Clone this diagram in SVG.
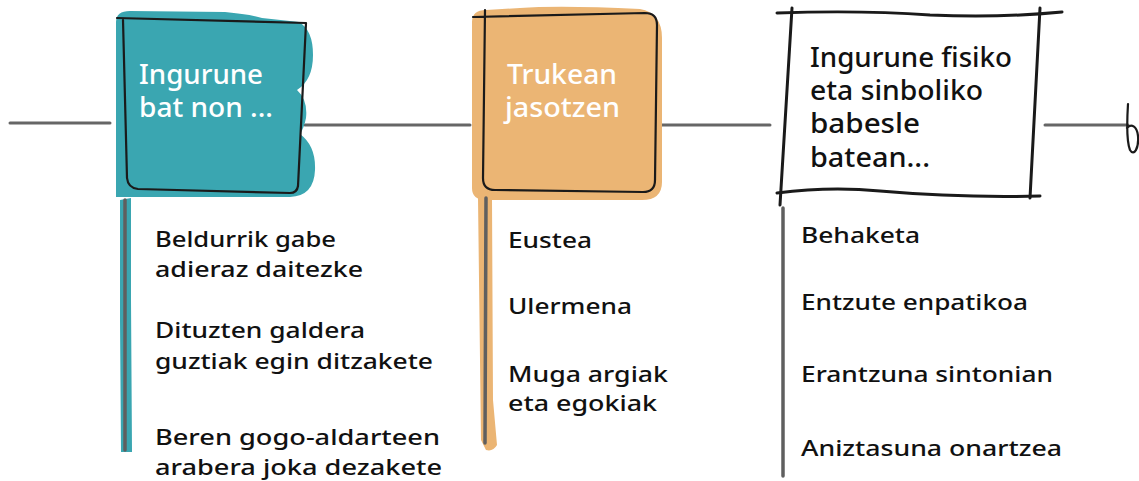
<svg xmlns="http://www.w3.org/2000/svg" width="1139" height="481" viewBox="0 0 1139 481">
<style>
  .conn{stroke:#666;stroke-width:3;fill:none;stroke-linecap:round}
  .ink{stroke:#1a1a1a;stroke-width:2.2;fill:none;stroke-linecap:round;stroke-linejoin:round}
  .ink3{stroke:#1a1a1a;stroke-width:3;fill:none;stroke-linecap:round;stroke-linejoin:round}
  .stem{stroke:#5f5f5f;stroke-width:3.5;fill:none;stroke-linecap:round}
  .title{font-family:"Noto Sans","Liberation Sans",sans-serif;font-size:27px;font-weight:500}
  .item{font-family:"Noto Sans","Liberation Sans",sans-serif;font-size:22px;font-weight:500;fill:#111}
  .w{fill:#ffffff}
  .k{fill:#111111}
</style>
<rect width="1139" height="481" fill="#ffffff"/>
<g id="connectors">
  <line class="conn" x1="10" y1="123" x2="110" y2="123"/>
  <line class="conn" x1="305" y1="125" x2="470" y2="125"/>
  <line class="conn" x1="662" y1="125" x2="770" y2="125"/>
  <line class="conn" x1="1045" y1="125" x2="1128" y2="125"/>
  <path class="ink" d="M1128,104 C1127,120 1126,140 1130,150 C1134,157 1139,148 1138,136 C1137,126 1131,123 1127,128" stroke="#555"/>
</g>
<g id="node1">
  <path fill="#3aa6b1" d="M116,22 Q116,11 130,11 L225,12 Q248,14 262,18 L299,22 Q313,30 313,55 Q313,80 297,90 Q308,100 306,118 Q304,128 300,134 Q316,146 315,170 Q314,196 290,197 L116,197 Z"/>
  <path class="ink" d="M117,18 L306,23 L298,186 Q297,193 290,193 L138,189 Q128,188 127,178 L123,20"/>
  <text class="title w" x="139" y="84" textLength="124" lengthAdjust="spacingAndGlyphs">Ingurune</text>
  <text class="title w" x="139" y="117" textLength="134" lengthAdjust="spacingAndGlyphs">bat non ...</text>
</g>
<g id="list1">
  <path fill="#3aa6b1" d="M120,200 L131,198 L131,300 L132,452 L121,452 L120,320 Z"/>
  <line class="stem" x1="125" y1="200" x2="125" y2="450"/>
  <text class="item" x="155" y="247" textLength="181" lengthAdjust="spacingAndGlyphs">Beldurrik gabe</text>
  <text class="item" x="155" y="277" textLength="208" lengthAdjust="spacingAndGlyphs">adieraz daitezke</text>
  <text class="item" x="155" y="338" textLength="210" lengthAdjust="spacingAndGlyphs">Dituzten galdera</text>
  <text class="item" x="155" y="369" textLength="278" lengthAdjust="spacingAndGlyphs">guztiak egin ditzakete</text>
  <text class="item" x="155" y="445" textLength="285" lengthAdjust="spacingAndGlyphs">Beren gogo-aldarteen</text>
  <text class="item" x="155" y="475" textLength="287" lengthAdjust="spacingAndGlyphs">arabera joka dezakete</text>
</g>
<g id="node2">
  <path fill="#ebb574" d="M472,22 Q472,10 486,10 L520,8 Q560,5 640,9 Q662,13 662,38 L662,182 Q662,200 642,200 L486,200 Q472,200 472,188 Z"/>
  <path class="ink" d="M473,17 L645,13 Q657,13 657,25 L655,180 Q655,192 643,192 L495,190 Q483,190 483,178 L485,10"/>
  <text class="title w" x="507" y="84" textLength="110" lengthAdjust="spacingAndGlyphs">Trukean</text>
  <text class="title w" x="505" y="117" textLength="115" lengthAdjust="spacingAndGlyphs">jasotzen</text>
</g>
<g id="list2">
  <path fill="#ebb574" d="M478,198 L492,198 L493,400 L497,445 Q493,452 486,450 L481,440 Z"/>
  <line class="stem" x1="486" y1="198" x2="485" y2="443"/>
  <text class="item" x="508" y="248" textLength="84" lengthAdjust="spacingAndGlyphs">Eustea</text>
  <text class="item" x="508" y="314" textLength="124" lengthAdjust="spacingAndGlyphs">Ulermena</text>
  <text class="item" x="508" y="382" textLength="160" lengthAdjust="spacingAndGlyphs">Muga argiak</text>
  <text class="item" x="508" y="411" textLength="149" lengthAdjust="spacingAndGlyphs">eta egokiak</text>
</g>
<g id="node3">
  <path class="ink3" d="M777,13 Q860,10 930,15 Q1000,18 1062,12"/>
  <path class="ink3" d="M792,8 L780,205"/>
  <path class="ink3" d="M1040,8 L1030,198"/>
  <path class="ink3" d="M777,193 Q830,186 880,191 Q960,198 1040,196"/>
  <text class="title k" x="810" y="67" textLength="202" lengthAdjust="spacingAndGlyphs">Ingurune fisiko</text>
  <text class="title k" x="810" y="100" textLength="173" lengthAdjust="spacingAndGlyphs">eta sinboliko</text>
  <text class="title k" x="810" y="133" textLength="110" lengthAdjust="spacingAndGlyphs">babesle</text>
  <text class="title k" x="810" y="167" textLength="120" lengthAdjust="spacingAndGlyphs">batean...</text>
</g>
<g id="list3">
  <line class="stem" x1="783" y1="208" x2="783" y2="476" stroke-width="4"/>
  <text class="item" x="801" y="243" textLength="119" lengthAdjust="spacingAndGlyphs">Behaketa</text>
  <text class="item" x="801" y="310" textLength="227" lengthAdjust="spacingAndGlyphs">Entzute enpatikoa</text>
  <text class="item" x="801" y="382" textLength="252" lengthAdjust="spacingAndGlyphs">Erantzuna sintonian</text>
  <text class="item" x="801" y="456" textLength="261" lengthAdjust="spacingAndGlyphs">Aniztasuna onartzea</text>
</g>
</svg>
